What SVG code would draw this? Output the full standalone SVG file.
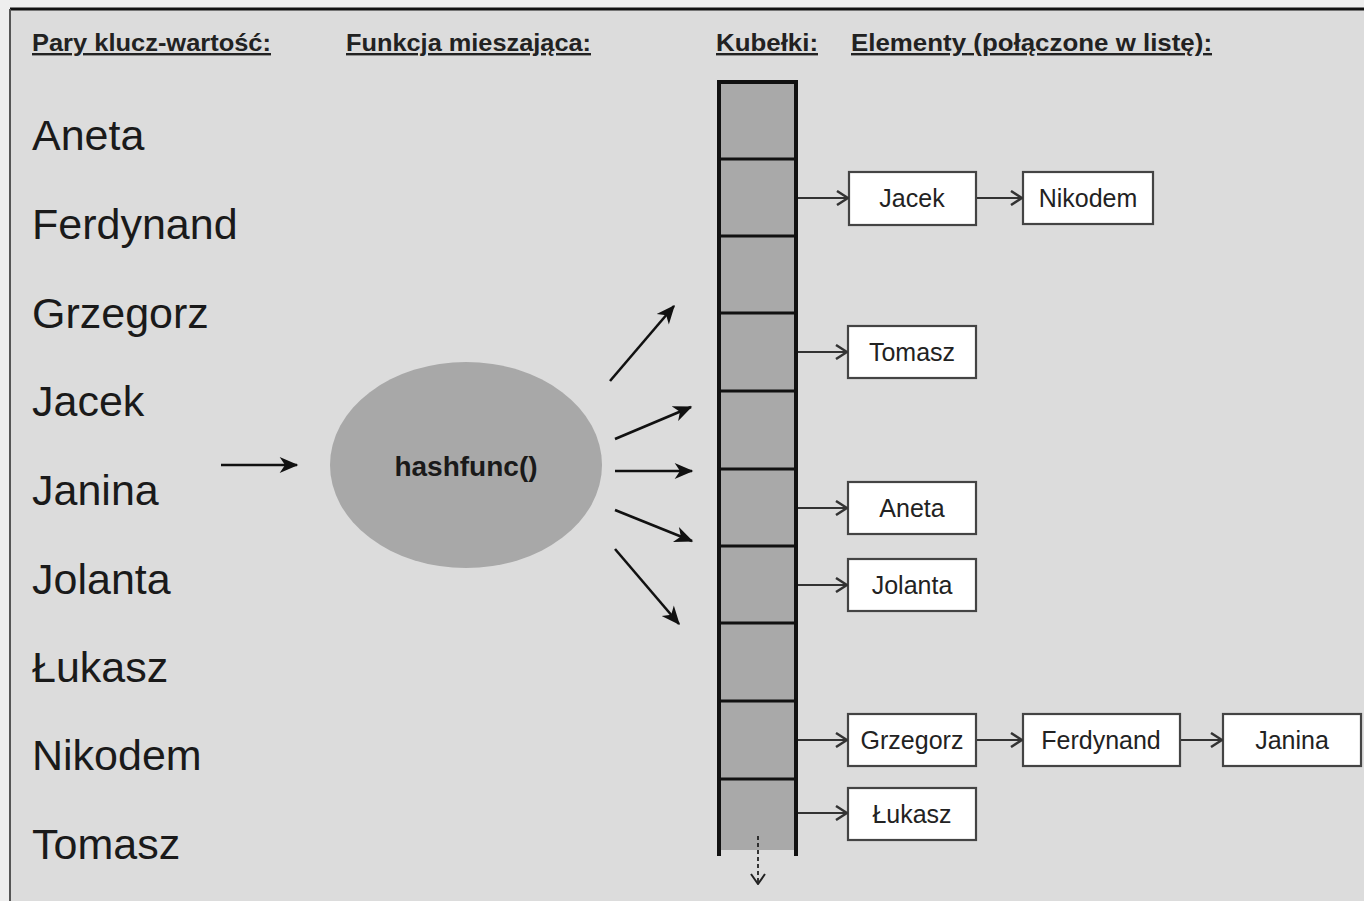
<svg xmlns="http://www.w3.org/2000/svg" width="1364" height="901" viewBox="0 0 1364 901">
<style>
.hdr{font-family:"Liberation Sans",Arial,sans-serif;font-size:24px;font-weight:bold;fill:#222;text-decoration:underline}
.key{font-family:"Liberation Sans",Arial,sans-serif;font-size:43px;fill:#1a1a1a}
.item{font-family:"Liberation Sans",Arial,sans-serif;font-size:25px;fill:#222;text-anchor:middle}
.box{fill:#ffffff;stroke:#444;stroke-width:2.2}
.fan{stroke:#111;stroke-width:2.6;fill:none;marker-end:url(#solid)}
.link{stroke:#333;stroke-width:2.2;fill:none;marker-end:url(#open)}
.div{stroke:#111;stroke-width:3}
</style>
<defs>
<marker id="solid" viewBox="0 0 14 12" refX="13" refY="6" markerWidth="20" markerHeight="16" markerUnits="userSpaceOnUse" orient="auto">
<path d="M0,0 L14,6 L0,12 L4,6 z" fill="#111"/>
</marker>
<marker id="open" viewBox="0 0 13 16" refX="12" refY="8" markerWidth="13" markerHeight="16" markerUnits="userSpaceOnUse" orient="auto">
<path d="M1,1 L12,8 L1,15" fill="none" stroke="#333" stroke-width="2.5"/>
</marker>
<marker id="dashhead" viewBox="0 0 16 12" refX="8" refY="11" markerWidth="16" markerHeight="12" markerUnits="userSpaceOnUse" orient="0">
<path d="M1,1 L8,11 L15,1" fill="none" stroke="#222" stroke-width="2"/>
</marker>
</defs>
<rect x="0" y="0" width="1364" height="901" fill="#eeeeee"/>
<rect x="10" y="9" width="1354" height="892" fill="#dcdcdc"/>
<line x1="10" y1="9" x2="1364" y2="9" stroke="#111" stroke-width="3"/>
<line x1="10" y1="9" x2="10" y2="901" stroke="#555" stroke-width="2"/>

<g id="headers">
<text class="hdr" x="32" y="51" textLength="239" lengthAdjust="spacingAndGlyphs">Pary klucz-wartość:</text>
<text class="hdr" x="346" y="51" textLength="245" lengthAdjust="spacingAndGlyphs">Funkcja mieszająca:</text>
<text class="hdr" x="716" y="51" textLength="102" lengthAdjust="spacingAndGlyphs">Kubełki:</text>
<text class="hdr" x="851" y="51" textLength="361" lengthAdjust="spacingAndGlyphs">Elementy (połączone w listę):</text>
</g>

<g id="keys">
<text class="key" x="32" y="150">Aneta</text>
<text class="key" x="32" y="239">Ferdynand</text>
<text class="key" x="32" y="328">Grzegorz</text>
<text class="key" x="32" y="416">Jacek</text>
<text class="key" x="32" y="505">Janina</text>
<text class="key" x="32" y="594">Jolanta</text>
<text class="key" x="32" y="682">Łukasz</text>
<text class="key" x="32" y="770">Nikodem</text>
<text class="key" x="32" y="859">Tomasz</text>
</g>

<g id="hashfunc">
<ellipse cx="466" cy="465" rx="136" ry="103" fill="#a8a8a8"/>
<text x="466" y="476" font-family="Liberation Sans, Arial, sans-serif" font-size="28" font-weight="bold" fill="#1a1a1a" text-anchor="middle">hashfunc()</text>
</g>

<g id="buckets">
<rect x="719" y="82" width="77" height="768" fill="#a9a9a9"/>
<line x1="719" y1="80" x2="719" y2="856" stroke="#111" stroke-width="4"/>
<line x1="796" y1="80" x2="796" y2="856" stroke="#111" stroke-width="4"/>
<line x1="717" y1="82" x2="798" y2="82" stroke="#111" stroke-width="4"/>
<line class="div" x1="719" y1="159" x2="796" y2="159"/>
<line class="div" x1="719" y1="236" x2="796" y2="236"/>
<line class="div" x1="719" y1="313" x2="796" y2="313"/>
<line class="div" x1="719" y1="391" x2="796" y2="391"/>
<line class="div" x1="719" y1="469" x2="796" y2="469"/>
<line class="div" x1="719" y1="546" x2="796" y2="546"/>
<line class="div" x1="719" y1="623" x2="796" y2="623"/>
<line class="div" x1="719" y1="701" x2="796" y2="701"/>
<line class="div" x1="719" y1="779" x2="796" y2="779"/>
</g>

<g id="n-jacek"><rect class="box" x="849" y="172" width="127" height="53"/><text class="item" x="912" y="207">Jacek</text></g>
<g id="n-nikodem"><rect class="box" x="1023" y="172" width="130" height="52"/><text class="item" x="1088" y="207">Nikodem</text></g>
<g id="n-tomasz"><rect class="box" x="848" y="326" width="128" height="52"/><text class="item" x="912" y="361">Tomasz</text></g>
<g id="n-aneta"><rect class="box" x="848" y="482" width="128" height="52"/><text class="item" x="912" y="517">Aneta</text></g>
<g id="n-jolanta"><rect class="box" x="848" y="559" width="128" height="52"/><text class="item" x="912" y="594">Jolanta</text></g>
<g id="n-grzegorz"><rect class="box" x="848" y="714" width="128" height="52"/><text class="item" x="912" y="749">Grzegorz</text></g>
<g id="n-ferdynand"><rect class="box" x="1023" y="714" width="157" height="52"/><text class="item" x="1101" y="749">Ferdynand</text></g>
<g id="n-janina"><rect class="box" x="1223" y="714" width="138" height="52"/><text class="item" x="1292" y="749">Janina</text></g>
<g id="n-lukasz"><rect class="box" x="848" y="788" width="128" height="52"/><text class="item" x="912" y="823">Łukasz</text></g>

<g id="connectors">
<line class="fan" x1="221" y1="465" x2="297" y2="465"/>
<line class="fan" x1="610" y1="381" x2="674" y2="306"/>
<line class="fan" x1="615" y1="439" x2="691" y2="407"/>
<line class="fan" x1="615" y1="471" x2="692" y2="471"/>
<line class="fan" x1="615" y1="510" x2="692" y2="541"/>
<line class="fan" x1="615" y1="549" x2="679" y2="624"/>
<line class="link" x1="798" y1="198" x2="848" y2="198"/>
<line class="link" x1="977" y1="198" x2="1022" y2="198"/>
<line class="link" x1="798" y1="352" x2="847" y2="352"/>
<line class="link" x1="798" y1="508" x2="847" y2="508"/>
<line class="link" x1="798" y1="585" x2="847" y2="585"/>
<line class="link" x1="798" y1="740" x2="847" y2="740"/>
<line class="link" x1="977" y1="740" x2="1022" y2="740"/>
<line class="link" x1="1181" y1="740" x2="1222" y2="740"/>
<line class="link" x1="798" y1="813" x2="847" y2="813"/>
<line x1="758" y1="836" x2="758" y2="884" stroke="#222" stroke-width="1.8" stroke-dasharray="4,3" marker-end="url(#dashhead)"/>
</g>
</svg>
